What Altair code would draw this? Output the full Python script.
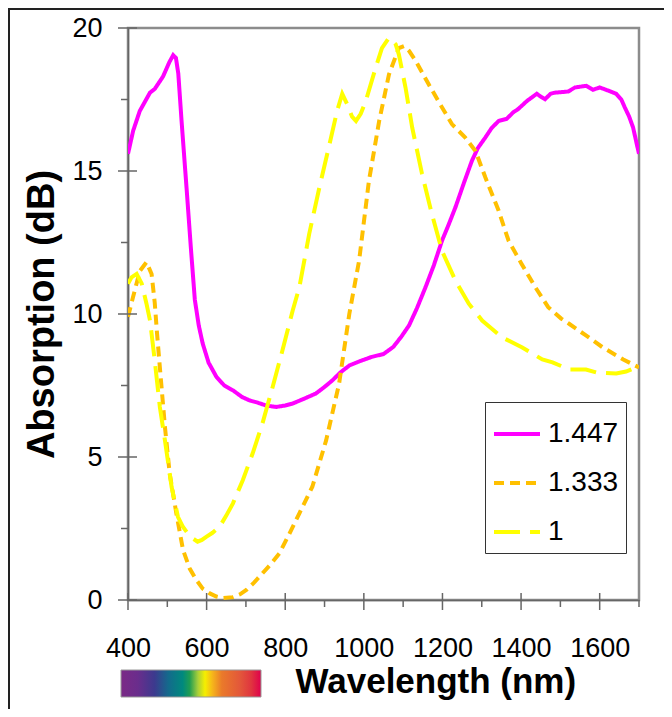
import altair as alt
import pandas as pd

FONT = "Liberation Sans"

series_names = ["1.447", "1.333", "1"]
series_colors = ["#FF00FF", "#FFC000", "#FFFF00"]
series_dashes = [[1, 0], [10, 6], [26, 10]]

wl_1447 = [400, 413, 430, 456, 468, 489, 505, 515, 522, 528, 536, 549, 560, 570, 580, 590,
           605, 625, 645, 667, 690, 709, 730, 751, 777, 800, 819, 850, 878, 900, 920, 940,
           963, 990, 1020, 1050, 1075, 1095, 1115, 1135, 1157, 1178, 1199, 1215, 1233, 1255,
           1275, 1290, 1309, 1325, 1343, 1363, 1380, 1393, 1415, 1440, 1450, 1461, 1475, 1486,
           1505, 1520, 1537, 1566, 1583, 1600, 1620, 1642, 1655, 1664, 1675, 1685, 1695, 1700]
ab_1447 = [15.6, 16.4, 17.1, 17.74, 17.87, 18.3, 18.8, 19.05, 18.95, 18.4, 16.8, 14.4, 12.3, 10.5, 9.6, 8.97,
           8.3, 7.8, 7.5, 7.33, 7.1, 6.98, 6.9, 6.8, 6.75, 6.8, 6.87, 7.05, 7.22, 7.45, 7.68, 7.95,
           8.2, 8.35, 8.5, 8.6, 8.85, 9.2, 9.6, 10.2, 10.94, 11.7, 12.57, 13.1, 13.73, 14.6,
           15.36, 15.8, 16.17, 16.5, 16.75, 16.82, 17.05, 17.17, 17.45, 17.7, 17.6, 17.51, 17.7, 17.74,
           17.76, 17.78, 17.92, 17.98, 17.84, 17.92, 17.82, 17.7, 17.5, 17.22, 16.9, 16.52, 15.9, 15.6]

wl_1333 = [400, 413, 430, 447, 460, 468, 474, 481, 494, 506, 523, 540, 557, 574, 590, 608,
           625, 641, 667, 685, 701, 720, 742, 763, 785, 810, 836, 869, 904, 937, 963, 988,
           1013, 1039, 1064, 1089, 1102, 1115, 1132, 1165, 1199, 1224, 1258, 1284, 1309, 1343,
           1368, 1401, 1436, 1469, 1502, 1523, 1565, 1608, 1660, 1700]
ab_1333 = [9.9, 10.6, 11.5, 11.81, 11.4, 10.4, 9.3, 8.14, 6.05, 4.42, 3.03, 1.75, 1.1, 0.7, 0.4, 0.23,
           0.12, 0.07, 0.1, 0.2, 0.35, 0.6, 0.93, 1.25, 1.63, 2.3, 3.03, 3.96, 5.58, 7.56, 10.0, 11.87,
           14.66, 16.75, 18.38, 19.3, 19.37, 19.2, 18.85, 18.03, 17.22, 16.64, 16.17, 15.7, 14.78, 13.61,
           12.57, 11.76, 10.94, 10.24, 9.84, 9.65, 9.25, 8.83, 8.41, 8.13]

wl_1 = [400, 409, 422, 435, 447, 456, 468, 481, 494, 511, 527, 540, 552, 565, 577, 588,
        599, 615, 633, 650, 667, 692, 717, 742, 768, 793, 819, 836, 861, 887, 912, 932,
        945, 957, 970, 980, 992, 1005, 1030, 1046, 1064, 1081, 1089, 1106, 1123, 1148, 1173,
        1199, 1233, 1267, 1301, 1352, 1403, 1454, 1480, 1523, 1565, 1591, 1642, 1667, 1692, 1700]
ab_1 = [11.06, 11.28, 11.4, 11.06, 10.36, 9.77, 8.38, 6.75, 5.58, 3.95, 2.91, 2.55, 2.33, 2.15, 2.04, 2.1,
        2.21, 2.35, 2.56, 2.95, 3.38, 4.19, 5.12, 6.17, 7.45, 8.73, 10.12, 10.94, 12.8, 14.43, 15.9, 17.1,
        17.7, 17.35, 16.9, 16.75, 17.0, 17.45, 18.61, 19.3, 19.66, 19.43, 19.08, 17.92, 16.52, 14.9, 13.5,
        12.2, 11.17, 10.36, 9.77, 9.18, 8.83, 8.41, 8.31, 8.06, 8.06, 7.96, 7.92, 7.99, 8.13, 8.1]

x_major = [400, 600, 800, 1000, 1200, 1400, 1600]
x_minor = [500, 700, 900, 1100, 1300, 1500, 1700]
y_major = [0, 5, 10, 15, 20]
y_minor = [2.5, 7.5, 12.5, 17.5]

spectrum_offsets = [0.0, 0.12, 0.24, 0.34, 0.44, 0.49, 0.55, 0.6, 0.65, 0.72, 0.85, 0.93, 1.0]
spectrum_colors = ["#7b2a86", "#6a2d8c", "#3c3a8e", "#136b8c", "#00897e", "#1f9c52", "#a8cf3a",
                   "#f5ef00", "#f6b81a", "#ea7a2a", "#e3573a", "#e0353f", "#df004c"]

rows = []
for name, ws, vals in [("1.447", wl_1447, ab_1447), ("1.333", wl_1333, ab_1333), ("1", wl_1, ab_1)]:
    for w, a in zip(ws, vals):
        rows.append({"series": name, "wl": w, "abs": a})
df = pd.DataFrame(rows)

xs = alt.Scale(domain=[400, 1700], nice=False, zero=False)
ys = alt.Scale(domain=[0, 20], nice=False)

x_axis = alt.Axis(
    values=x_major, ticks=False, labelPadding=35, labelFontSize=27, labelFont=FONT,
    labelColor="black", format="d", labelOverlap=False, labelFlush=False, grid=False,
    domainColor="#666666", domainWidth=1.5,
    title="Wavelength (nm)", titleFont=FONT, titleFontSize=35, titleFontWeight="bold",
    titleColor="black", titleX=167, titleY=92, titleAlign="left", titleBaseline="alphabetic")
y_axis = alt.Axis(
    values=y_major, ticks=False, labelPadding=26, labelFontSize=27, labelFont=FONT,
    labelColor="black", labelOverlap=False, labelFlush=False, grid=False,
    domainColor="#666666", domainWidth=1.5,
    title="Absorption (dB)", titleFont=FONT, titleFontSize=38, titleFontWeight="bold",
    titleColor="black", titleX=-75, titleY=286, titleAngle=270, titleAlign="center",
    titleBaseline="alphabetic")

legend = alt.Legend(title=None, orient="none", legendX=357, legendY=374, padding=7,
                    strokeColor="#333333", fillColor="white", symbolType="stroke",
                    symbolSize=2116, symbolStrokeWidth=4, labelFontSize=28, labelFont=FONT,
                    labelColor="black", rowPadding=10, labelOffset=6)

lines = alt.Chart(df).mark_line(strokeWidth=4, clip=True).encode(
    x=alt.X("wl:Q", scale=xs, axis=x_axis),
    y=alt.Y("abs:Q", scale=ys, axis=y_axis),
    color=alt.Color("series:N", scale=alt.Scale(domain=series_names, range=series_colors), legend=legend),
    strokeDash=alt.StrokeDash("series:N", scale=alt.Scale(domain=series_names, range=series_dashes), legend=legend),
)

tick_color = "#666666"
ymaj = alt.Chart(pd.DataFrame({"abs": y_major})).mark_rule(color=tick_color, strokeWidth=1.5).encode(
    y=alt.Y("abs:Q", scale=ys, axis=y_axis), x=alt.value(-10), x2=alt.value(9))
ymin = alt.Chart(pd.DataFrame({"abs": y_minor})).mark_rule(color=tick_color, strokeWidth=1.5).encode(
    y=alt.Y("abs:Q", scale=ys, axis=y_axis), x=alt.value(-7), x2=alt.value(0))
xmaj = alt.Chart(pd.DataFrame({"wl": x_major})).mark_rule(color=tick_color, strokeWidth=1.5).encode(
    x=alt.X("wl:Q", scale=xs, axis=x_axis), y=alt.value(565), y2=alt.value(582))
xmin = alt.Chart(pd.DataFrame({"wl": x_minor})).mark_rule(color=tick_color, strokeWidth=1.5).encode(
    x=alt.X("wl:Q", scale=xs, axis=x_axis), y=alt.value(572), y2=alt.value(579))

one = pd.DataFrame({"k": [0]})
frame_top = alt.Chart(one).mark_rule(color="#222222", strokeWidth=2).encode(
    x=alt.value(-120), x2=alt.value(560), y=alt.value(-19))
frame_left = alt.Chart(one).mark_rule(color="#222222", strokeWidth=2).encode(
    x=alt.value(-119), y=alt.value(-20), y2=alt.value(720))

grad = alt.Gradient(gradient="linear",
                    stops=[alt.GradientStop(offset=o, color=c) for o, c in zip(spectrum_offsets, spectrum_colors)],
                    x1=0, x2=1, y1=0, y2=0)
colorbar = alt.Chart(one).mark_rect(fill=grad, stroke="#999999", strokeWidth=1).encode(
    x=alt.value(-7), x2=alt.value(133), y=alt.value(642), y2=alt.value(669))

chart = alt.layer(lines, frame_top, frame_left, colorbar, ymaj, ymin, xmaj, xmin).properties(
    width=511, height=572,
    autosize=alt.AutoSizeParams(type="none"),
    padding={"left": 120, "top": 20, "right": 25, "bottom": 109},
    background="white",
).configure_view(stroke="#8c8c8c", strokeWidth=2.5)

chart.save("out.html", embed_options={"renderer": "svg", "actions": False})
